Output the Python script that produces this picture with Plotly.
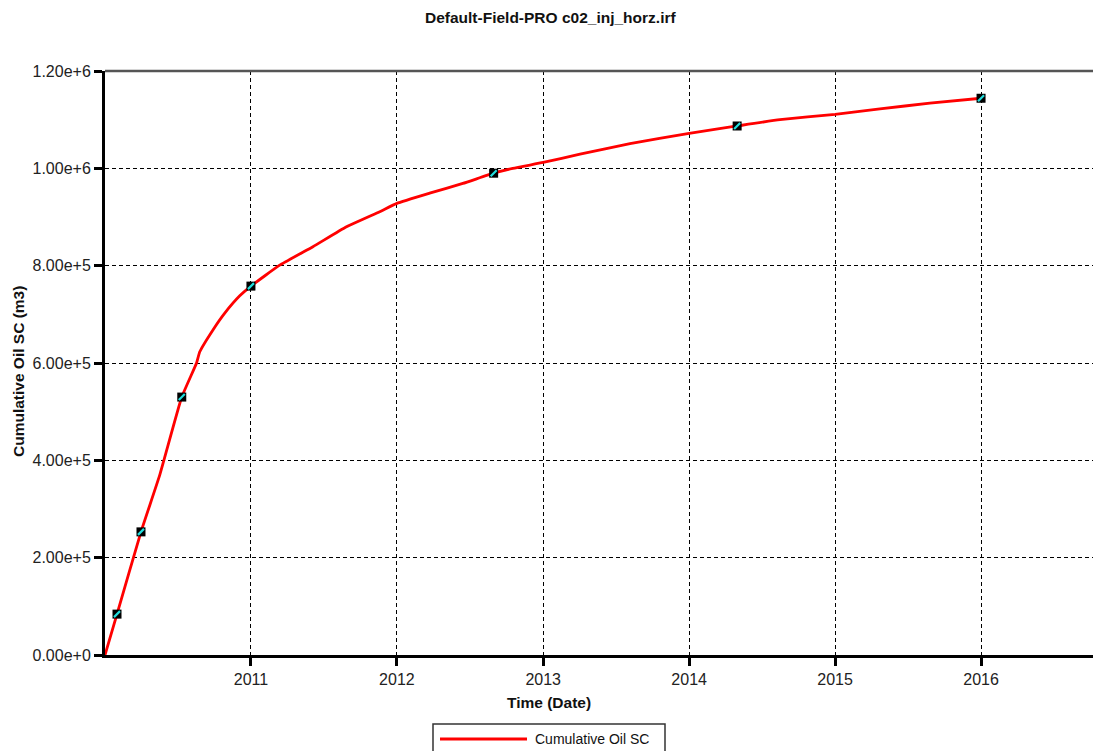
import plotly.graph_objects as go

# Cumulative oil production curve
dates = ["2010-01-01", "2010-01-31", "2010-04-01", "2010-05-18", "2010-07-12",
         "2010-08-18", "2010-08-26", "2010-09-28", "2010-10-28", "2010-12-04",
         "2011-01-01", "2011-03-14", "2011-06-05", "2011-08-28", "2011-11-19",
         "2012-01-01", "2012-03-23", "2012-06-14", "2012-08-30", "2012-10-17",
         "2013-01-01", "2013-04-03", "2013-08-06", "2014-01-01", "2014-05-01",
         "2014-08-16", "2015-01-01", "2015-04-23", "2015-08-26", "2016-01-01"]
cum_oil = [0, 84000, 253000, 370000, 530000,
           600000, 623000, 668000, 703000, 738000,
           758000, 801000, 839000, 880000, 911000,
           928000, 949000, 969000, 990000, 1000000,
           1012000, 1029000, 1051000, 1072000, 1087000,
           1100000, 1111000, 1122000, 1134000, 1144000]

# Observed points
obs_dates = ["2010-01-31", "2010-04-01", "2010-07-12", "2011-01-01",
             "2012-08-30", "2014-05-01", "2016-01-01"]
obs_oil = [84000, 253000, 530000, 758000, 990000, 1087000, 1144000]

# Axis ticks
x_tickvals = ["2011-01-01", "2012-01-01", "2013-01-01", "2014-01-01",
              "2015-01-01", "2016-01-01"]
x_ticktext = ["2011", "2012", "2013", "2014", "2015", "2016"]
y_tickvals = [0, 200000, 400000, 600000, 800000, 1000000, 1200000]
y_ticktext = ["0.00e+0", "2.00e+5", "4.00e+5", "6.00e+5", "8.00e+5",
              "1.00e+6", "1.20e+6"]

FONT = "Liberation Sans, Arial, sans-serif"

# plot-area geometry (pixels)
W, H = 1093, 751
L, T, B, R = 105, 71, 96, 0
PW, PH = W - L - R, H - T - B


def px(x):
    return (x - L) / PW


def py(y):
    return (H - B - y) / PH


fig = go.Figure()

fig.add_trace(go.Scatter(
    x=dates, y=cum_oil, mode="lines",
    line=dict(color="#ff0000", width=2.8, shape="spline", smoothing=0.4),
    name="Cumulative Oil SC", showlegend=False,
))
fig.add_trace(go.Scatter(
    x=obs_dates, y=obs_oil, mode="markers",
    marker=dict(symbol="square", size=9, color="black",
                line=dict(width=0)),
    showlegend=False, hoverinfo="skip",
))
fig.add_trace(go.Scatter(
    x=obs_dates, y=obs_oil, mode="markers",
    marker=dict(symbol="line-ne", size=6,
                line=dict(width=2.2, color="#22dddd")),
    showlegend=False, hoverinfo="skip",
))

grid = dict(showgrid=True, gridcolor="black", gridwidth=1, griddash="4px,3px")

fig.update_xaxes(
    type="date", range=["2010-01-01", "2016-10-07"],
    tickvals=x_tickvals, ticktext=x_ticktext,
    ticks="outside", ticklen=8, tickwidth=3, tickcolor="black",
    showline=True, linecolor="black", linewidth=3,
    tickfont=dict(family=FONT, size=16, color="#222"),
    zeroline=False, **grid,
)
fig.update_yaxes(
    range=[0, 1200000],
    tickvals=y_tickvals, ticktext=y_ticktext,
    ticks="outside", ticklen=8, tickwidth=3, tickcolor="black",
    showline=True, linecolor="black", linewidth=3,
    tickfont=dict(family=FONT, size=16, color="#222"),
    zeroline=False, **grid,
)

shapes = [
    # top frame line
    dict(type="line", xref="paper", yref="paper", x0=0, x1=1, y0=1, y1=1,
         line=dict(color="#555555", width=2.5), layer="above"),
    # legend box
    dict(type="rect", xref="paper", yref="paper",
         x0=px(433), x1=px(665), y0=py(760), y1=py(724),
         line=dict(color="#333333", width=1.5), fillcolor="white"),
    dict(type="line", xref="paper", yref="paper",
         x0=px(440), x1=px(527), y0=py(739), y1=py(739),
         line=dict(color="#ff0000", width=2.8)),
]

annotations = [
    dict(text="<b>Default-Field-PRO c02_inj_horz.irf</b>", xref="paper", yref="paper",
         x=px(550), y=py(18), showarrow=False,
         font=dict(family=FONT, size=15.5, color="#111"), xanchor="center", yanchor="middle"),
    dict(text="<b>Time (Date)</b>", xref="paper", yref="paper",
         x=px(549), y=py(703), showarrow=False,
         font=dict(family=FONT, size=15.5, color="#111"), xanchor="center", yanchor="middle"),
    dict(text="<b>Cumulative Oil SC (m3)</b>", xref="paper", yref="paper",
         x=px(18), y=py(372), showarrow=False, textangle=-90,
         font=dict(family=FONT, size=15.5, color="#111"), xanchor="center", yanchor="middle"),
    dict(text="Cumulative Oil SC", xref="paper", yref="paper",
         x=px(533), y=py(739), showarrow=False,
         font=dict(family=FONT, size=14, color="#111"), xanchor="left", yanchor="middle"),
]

fig.update_layout(
    width=W, height=H,
    margin=dict(l=L, r=R, t=T, b=B, pad=0),
    paper_bgcolor="white", plot_bgcolor="white",
    showlegend=False,
    shapes=shapes, annotations=annotations,
)

fig.write_html("out.html")
